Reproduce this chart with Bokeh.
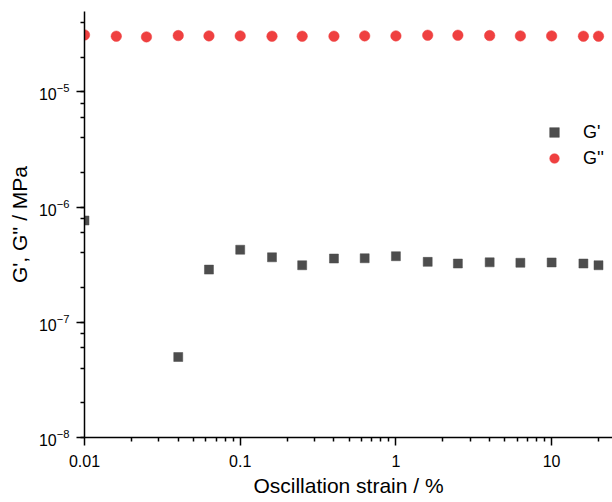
from bokeh.plotting import figure
from bokeh.models import (FixedTicker, LogTicker, CustomJSTickFormatter, Legend, LegendItem, Range1d)
from bokeh.embed import file_html
from bokeh.resources import INLINE

# Data
strain_gpp = [0.01, 0.016, 0.025, 0.04, 0.063, 0.1, 0.16, 0.25, 0.4, 0.63,
              1, 1.6, 2.5, 4, 6.3, 10, 16, 20]
g_double_prime = [3.13e-5, 3.05e-5, 3.01e-5, 3.09e-5, 3.07e-5, 3.07e-5, 3.05e-5, 3.05e-5, 3.05e-5,
                  3.07e-5, 3.07e-5, 3.11e-5, 3.11e-5, 3.09e-5, 3.07e-5, 3.07e-5, 3.05e-5, 3.05e-5]
strain_gp = [0.01, 0.04, 0.063, 0.1, 0.16, 0.25, 0.4, 0.63,
             1, 1.6, 2.5, 4, 6.3, 10, 16, 20]
g_prime = [7.66e-7, 5.0e-8, 2.87e-7, 4.27e-7, 3.67e-7, 3.13e-7, 3.58e-7, 3.60e-7,
           3.75e-7, 3.35e-7, 3.24e-7, 3.32e-7, 3.29e-7, 3.31e-7, 3.24e-7, 3.13e-7]
x_major_ticks = [0.01, 0.1, 1, 10]

FONT = "Liberation Sans"
x_end = 24.6

p = figure(width=612, height=502, x_axis_type="log", y_axis_type="log",
           x_range=Range1d(0.01, x_end), y_range=Range1d(1e-8, 5e-5),
           output_backend="svg", toolbar_location=None,
           min_border_left=84, min_border_right=0, min_border_top=11, min_border_bottom=65)
p.outline_line_color = None
p.grid.visible = False

minor = [k * 10.0 ** d for d in range(-2, 2) for k in range(2, 10) if k * 10.0 ** d <= x_end]
p.xaxis.ticker = FixedTicker(ticks=x_major_ticks, minor_ticks=minor)
p.xaxis.formatter = CustomJSTickFormatter(code="return String(Number(tick.toPrecision(6)));")
p.yaxis.ticker = LogTicker()

for ax in p.axis:
    ax.axis_line_width = 1.5
    ax.axis_line_color = "black"
    ax.major_tick_line_color = "black"
    ax.major_tick_line_width = 1.5
    ax.major_tick_in = 0
    ax.major_tick_out = 8
    ax.minor_tick_line_color = "black"
    ax.minor_tick_line_width = 1.5
    ax.minor_tick_in = 0
    ax.minor_tick_out = 4
    ax.major_label_text_font = FONT
    ax.major_label_text_font_size = "16px"
    ax.major_label_text_color = "black"
    ax.axis_label_text_font = FONT
    ax.axis_label_text_font_size = "21px"
    ax.axis_label_text_font_style = "normal"
    ax.axis_label_text_color = "black"

p.xaxis.axis_label = "Oscillation strain / %"
p.yaxis.axis_label = "G', G'' / MPa"
p.xaxis.major_label_standoff = 9
p.yaxis.major_label_standoff = 7
p.xaxis.axis_label_standoff = 4
p.yaxis.axis_label_standoff = 5

r1 = p.scatter(strain_gp, g_prime, marker="square", size=9, fill_color="#4D4D4D",
               line_color="#4D4D4D", line_width=0.5)
r2 = p.scatter(strain_gpp, g_double_prime, marker="circle", size=10.5, fill_color="#EF4040",
               line_color="#EF4040", line_width=0.5)

legend = Legend(items=[LegendItem(label="G'", renderers=[r1]),
                       LegendItem(label="G''", renderers=[r2])],
                location=(458, 267), border_line_color=None, background_fill_alpha=0,
                padding=0, margin=0, spacing=2, glyph_width=24, glyph_height=24,
                label_height=24, label_standoff=17,
                label_text_font=FONT, label_text_font_size="18px", label_text_color="black")
p.add_layout(legend)

open("out.html", "w").write(file_html(p, INLINE))
